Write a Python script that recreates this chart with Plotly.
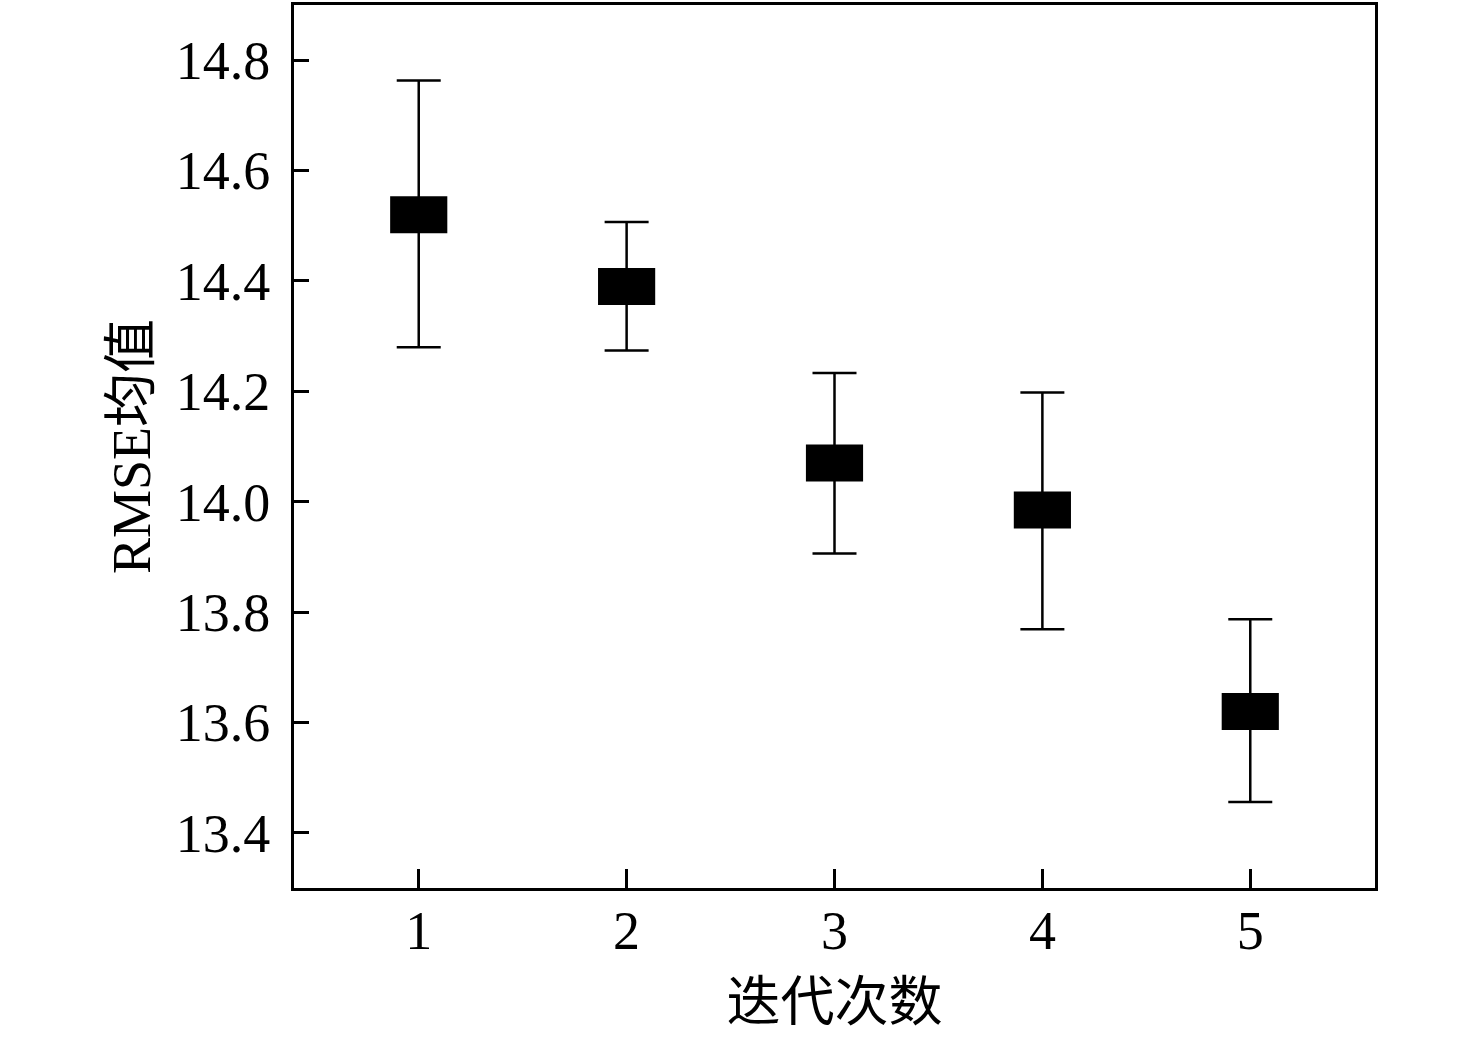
import plotly.graph_objects as go

# mean RMSE per iteration, with upper / lower error bar ends
iterations = [1, 2, 3, 4, 5]
rmse_mean = [14.52, 14.39, 14.07, 13.985, 13.62]
rmse_upper = [14.763, 14.507, 14.233, 14.198, 13.787]
rmse_lower = [14.28, 14.274, 13.906, 13.769, 13.456]

BOX_W = 0.275   # marker width in x units
BOX_H = 0.067   # marker height in y units

err_plus = [u - m for u, m in zip(rmse_upper, rmse_mean)]
err_minus = [m - l for m, l in zip(rmse_mean, rmse_lower)]

FONT = "Liberation Serif, Times New Roman, Noto Sans CJK SC"

fig = go.Figure()

# filled rectangle markers drawn as floating bars
fig.add_trace(go.Bar(
    x=iterations,
    y=[BOX_H] * len(iterations),
    base=[m - BOX_H / 2 for m in rmse_mean],
    width=BOX_W,
    marker=dict(color="black", line=dict(width=0)),
    showlegend=False,
    hoverinfo="skip",
))

fig.add_trace(go.Scatter(
    x=iterations,
    y=rmse_mean,
    mode="markers",
    marker=dict(size=2, color="black"),
    error_y=dict(
        type="data", symmetric=False,
        array=err_plus, arrayminus=err_minus,
        color="black", thickness=2.5, width=22,
    ),
    showlegend=False,
))

axis_common = dict(
    showline=True, linecolor="black", linewidth=3, mirror=True,
    ticks="inside", tickcolor="black", tickwidth=3,
    showgrid=False, zeroline=False,
    tickfont=dict(family=FONT, size=54, color="black"),
)

fig.update_layout(
    width=1476, height=1039,
    margin=dict(l=294, r=101, t=2, b=151),
    paper_bgcolor="white", plot_bgcolor="white",
    xaxis=dict(
        range=[0.4, 5.6], tickvals=iterations, ticklen=19,
        ticklabelstandoff=-7,
        title=dict(text="迭代次数", font=dict(family=FONT, size=54, color="black"),
                   standoff=24),
        **axis_common,
    ),
    yaxis=dict(
        range=[13.3, 14.9], tickvals=[13.4, 13.6, 13.8, 14.0, 14.2, 14.4, 14.6, 14.8],
        tickformat=".1f", ticklen=15, ticklabelstandoff=10,
        title=dict(text="RMSE均值", font=dict(family=FONT, size=54, color="black"),
                   standoff=8),
        **axis_common,
    ),
)

fig.write_html("out.html", config={"displayModeBar": False},
               post_script="document.body.style.margin='0px';")
